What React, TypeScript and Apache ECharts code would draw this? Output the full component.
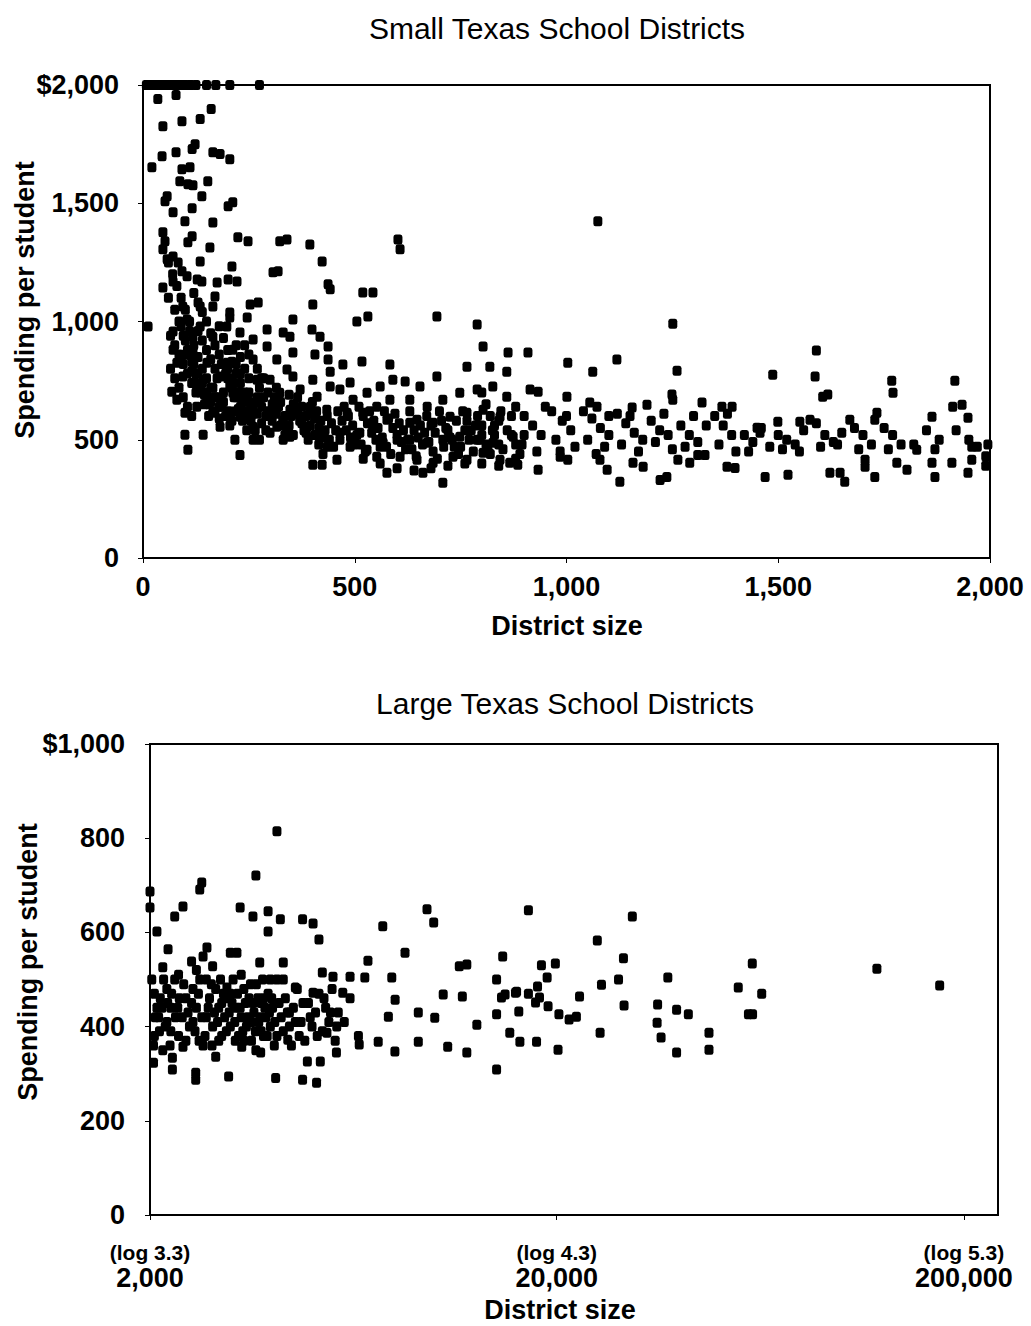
import React, { useEffect, useRef } from "react";
import * as echarts from "echarts";

// ---------- text ----------
const smallTitle = "Small Texas School Districts";
const largeTitle = "Large Texas School Districts";
const xName = "District size";
const yName = "Spending per student";

// ---------- tick labels ----------
const smallXTicks = [0, 500, 1000, 1500, 2000];
const smallXLabels = ["0", "500", "1,000", "1,500", "2,000"];
const smallYTicks = [0, 500, 1000, 1500, 2000];
const smallYLabels = ["0", "500", "1,000", "1,500", "$2,000"];
const largeYTicks = [0, 200, 400, 600, 800, 1000];
const largeYLabels = ["0", "200", "400", "600", "800", "$1,000"];
const largeXTicks = [2000, 20000, 200000];
const largeXLogLabels = ["(log 3.3)", "(log 4.3)", "(log 5.3)"];
const largeXLabels = ["2,000", "20,000", "200,000"];

// ---------- data: small districts [size, spending per student] ----------
const smallCapped = [
  [8, 2000], [15, 2000], [22, 2000], [30, 2000], [38, 2000], [45, 2000], [55, 2000], [62, 2000], [70, 2000],
  [80, 2000], [90, 2000], [100, 2000], [112, 2000], [125, 2000], [150, 2000], [172, 2000], [205, 2000], [275, 2000],
];
const smallUpper = [
  [35, 1941], [78, 1958], [161, 1898], [47, 1826], [92, 1847], [135, 1856], [45, 1699], [78, 1716], [116, 1729],
  [123, 1750], [165, 1716], [182, 1708], [205, 1686], [21, 1652], [92, 1644], [111, 1652], [87, 1593], [106, 1580],
  [118, 1576], [153, 1593], [57, 1530], [52, 1508], [139, 1530], [201, 1487], [212, 1504], [71, 1462], [116, 1479],
  [99, 1424], [165, 1419], [47, 1377], [52, 1339], [116, 1360], [106, 1335], [224, 1356], [248, 1339], [323, 1339],
  [340, 1347], [394, 1326], [602, 1347], [607, 1305], [47, 1305], [57, 1263], [71, 1275], [83, 1250], [158, 1313],
  [135, 1254], [210, 1233], [423, 1254], [307, 1208], [319, 1212], [92, 1212], [104, 1191], [128, 1178], [139, 1169],
  [175, 1165], [201, 1178], [222, 1169], [47, 1144], [71, 1169], [437, 1157], [442, 1136], [519, 1123], [543, 1123],
  [253, 1072], [272, 1080], [401, 1072], [170, 1106], [531, 1021], [505, 1000], [694, 1021], [789, 987], [12, 979],
  [354, 1008], [205, 1017], [246, 1017], [293, 966], [331, 953], [347, 936], [399, 966], [418, 936], [803, 894],
  [862, 869], [909, 869], [1074, 1424], [1251, 991],
];
const smallLeftDense = [
  [99, 521], [142, 521], [106, 458], [229, 436], [217, 500], [260, 555], [212, 619], [71, 958], [71, 881], [80, 826],
  [68, 703], [94, 767], [118, 869], [135, 979], [165, 936], [198, 979], [212, 881], [182, 767], [142, 754], [151, 682],
  [127, 640], [165, 614], [212, 699], [246, 669], [269, 754], [260, 839], [260, 924], [229, 953], [198, 826], [104, 1008],
  [135, 1063], [94, 1063], [165, 1063], [205, 1038], [118, 936], [151, 826], [99, 614], [80, 669], [182, 555], [229, 597],
  [260, 500], [293, 894], [406, 860], [437, 894], [437, 839], [442, 788], [401, 754], [354, 869], [316, 839], [340, 797],
  [300, 754], [323, 699], [371, 712], [411, 682], [442, 725], [307, 640], [347, 627], [394, 614], [434, 627], [316, 555],
  [347, 513], [387, 555], [418, 513], [401, 394], [423, 394], [300, 530], [331, 500], [354, 767],
  [60, 1250], [70, 1200], [80, 1150], [90, 1100], [100, 1050], [110, 1000], [120, 1120], [130, 1080], [140, 1040],
  [150, 1000], [160, 950], [170, 900], [180, 980], [190, 930], [200, 880], [210, 830], [220, 900], [230, 850],
  [240, 800], [250, 760], [60, 1100], [75, 1050], [85, 1000], [95, 940], [105, 880], [115, 830], [125, 780],
  [135, 730], [145, 690], [155, 650], [165, 720], [175, 680], [185, 640], [195, 600], [205, 560], [215, 740],
  [225, 700], [235, 660], [245, 620], [255, 580], [265, 540], [275, 500], [285, 680], [295, 620], [305, 580],
  [315, 720], [325, 660], [335, 600], [345, 560], [355, 520], [365, 680], [375, 640], [385, 600], [395, 560],
  [405, 520], [415, 480], [425, 440], [435, 600], [445, 570], [455, 540], [465, 500], [475, 640], [485, 600],
  [495, 560], [505, 520], [515, 480], [525, 450], [535, 620], [545, 580], [555, 550], [565, 510], [575, 470],
  [585, 440], [595, 610], [605, 570], [615, 540], [625, 500], [635, 460], [645, 430], [655, 560], [665, 530],
  [675, 490], [685, 450], [695, 420], [705, 580], [715, 550], [725, 510], [735, 470], [745, 440], [755, 620],
  [765, 580], [775, 540], [785, 560], [795, 500],
];
const smallBlob = [
  [65, 940], [75, 900], [85, 860], [95, 820], [105, 780], [115, 740], [125, 700], [65, 800], [75, 760], [85, 720],
  [95, 680], [105, 640], [115, 600], [90, 980], [100, 920], [110, 860], [120, 820], [130, 780], [140, 740], [150, 700],
  [160, 660], [170, 620], [180, 590], [190, 660], [200, 620], [210, 580], [220, 780], [230, 740], [240, 700], [250, 660],
  [260, 620], [270, 680], [280, 640], [290, 600], [130, 960], [140, 920], [150, 880], [160, 840], [170, 800], [180, 860],
  [190, 820], [200, 800], [210, 760], [220, 820], [230, 780], [240, 900], [250, 860], [270, 800], [280, 760],
];
const smallCore = [
  [110, 960], [120, 900], [130, 850], [140, 800], [150, 760], [160, 720], [170, 680], [180, 640], [190, 700],
  [200, 760], [210, 720], [220, 680], [230, 640], [240, 600], [250, 700], [260, 650], [270, 610], [280, 570],
  [290, 540], [300, 600], [310, 680], [320, 640], [330, 580], [340, 540], [350, 600], [360, 640], [370, 580],
  [380, 540], [390, 500], [400, 660], [410, 620], [420, 580], [430, 540], [440, 500], [450, 470], [460, 620],
  [470, 580], [480, 540], [490, 510], [500, 480], [100, 860], [115, 790], [125, 740], [135, 700], [145, 650],
  [155, 600], [175, 760], [185, 820], [195, 780], [205, 730], [215, 680], [225, 630], [235, 580], [245, 540],
  [255, 600], [265, 660], [275, 720], [285, 760], [295, 700], [305, 650], [315, 610], [325, 560], [335, 520],
  [345, 690], [355, 650], [365, 610], [375, 570], [385, 530], [395, 640], [405, 590], [415, 550], [425, 510],
  [435, 470], [510, 640], [520, 600], [530, 570], [540, 530], [550, 500], [560, 470], [570, 620], [580, 590],
  [590, 550], [600, 520], [610, 490], [620, 460], [630, 620], [640, 540], [650, 510], [660, 480], [670, 600],
  [680, 560], [690, 530], [700, 620], [710, 470], [720, 540], [730, 500], [740, 580], [750, 470], [760, 540],
  [770, 500], [780, 450], [790, 600], [800, 560], [810, 480], [820, 440], [830, 520], [840, 580], [850, 460],
  [860, 540], [870, 600], [880, 480], [890, 440], [900, 520], [520, 420], [560, 400], [600, 380], [640, 370],
  [680, 380], [720, 390], [760, 400], [800, 400], [840, 390], [880, 420],
];
const smallMiddle = [
  [458, 415], [472, 818], [517, 831], [583, 818], [590, 754], [619, 746], [465, 712], [496, 669], [529, 699],
  [560, 725], [482, 614], [519, 614], [552, 640], [583, 669], [465, 530], [512, 530], [543, 555], [576, 585],
  [489, 470], [529, 458], [567, 487], [600, 500], [576, 360], [552, 428], [607, 428], [489, 742],
  [765, 809], [694, 767], [654, 725], [630, 669], [671, 640], [708, 669], [748, 699], [789, 712], [826, 725],
  [859, 682], [647, 585], [685, 572], [725, 597], [765, 614], [803, 627], [843, 597], [630, 500], [671, 487],
  [708, 500], [748, 513], [789, 500], [826, 487], [874, 513], [647, 415], [685, 403], [708, 318], [661, 360],
  [732, 428], [765, 415], [803, 445], [843, 415], [630, 572],
];
const smallRight = [
  [1590, 877], [819, 809], [859, 788], [1003, 826], [1062, 788], [1119, 839], [1261, 792], [1487, 775], [1587, 767],
  [1768, 750], [1771, 699], [1917, 750], [1912, 640], [1934, 648], [1605, 682], [1617, 691], [914, 712], [933, 703],
  [1001, 682], [1055, 657], [1072, 640], [1155, 636], [1190, 648], [1249, 691], [1251, 669], [1320, 657], [1367, 640],
  [1391, 640], [1499, 576], [1551, 576], [1575, 585], [1669, 585], [1733, 614], [1728, 585], [1863, 597], [1948, 593],
  [1450, 551], [1457, 530],
  [1469, 343], [1523, 352], [1622, 360], [1646, 360], [1657, 322], [1728, 343], [1705, 415], [1705, 386], [1780, 403],
  [1804, 373], [1827, 458], [1863, 403], [1870, 343], [1910, 403], [1957, 415], [1957, 470], [1948, 360], [1126, 322],
  [1221, 330], [1237, 343], [1079, 415], [1096, 373], [1157, 403], [1181, 386], [1263, 415], [1291, 403], [1379, 386],
  [1398, 381], [866, 403], [885, 394], [933, 373], [985, 428], [1003, 415], [1310, 436], [1327, 436],
  [800, 700], [810, 650], [820, 600], [830, 560], [800, 520], [840, 480], [815, 450], [825, 540], [845, 620],
  [880, 640], [900, 600], [920, 560], [940, 520], [895, 480], [950, 640], [870, 520], [930, 450],
  [965, 620], [990, 580], [1010, 540], [975, 500], [1020, 470], [1000, 600], [985, 450],
  [1040, 620], [1060, 590], [1080, 550], [1100, 520], [1050, 500], [1090, 470], [1070, 440], [1100, 600],
  [1120, 610], [1140, 570], [1160, 530], [1180, 500], [1130, 480], [1170, 450], [1150, 600],
  [1200, 580], [1220, 540], [1240, 520], [1210, 490], [1250, 460], [1230, 610],
  [1270, 560], [1290, 520], [1310, 490], [1330, 560], [1280, 470], [1300, 600],
  [1350, 600], [1370, 560], [1390, 520], [1360, 480], [1400, 450], [1380, 610],
  [1420, 520], [1440, 490], [1460, 550], [1480, 470], [1430, 450],
  [1500, 520], [1520, 500], [1540, 480], [1560, 540], [1510, 460], [1550, 450],
  [1590, 570], [1610, 520], [1630, 490], [1600, 470], [1640, 480], [1650, 530],
  [1680, 550], [1700, 520], [1720, 480], [1690, 460],
  [1750, 550], [1770, 520], [1790, 480], [1760, 460],
  [1820, 480], [1850, 540], [1880, 500], [1870, 460],
  [1920, 540], [1950, 500], [1970, 470], [1990, 430], [1995, 480], [1990, 390],
];

// ---------- data: large districts [size, spending per student] ----------
const largeSparse = [
  [2000, 687], [2000, 653], [2080, 602], [2215, 564], [2300, 634], [2410, 655], [2680, 706], [2650, 691], [3640, 721],
  [4100, 815], [3330, 653], [3580, 634], [3900, 645], [4180, 628], [3900, 602], [4740, 628], [5030, 619], [5200, 585],
  [7460, 613], [9580, 649], [9950, 621], [8460, 557], [6860, 540], [4250, 536], [3720, 536], [3270, 557], [3150, 557],
  [2850, 528], [2530, 538], [2700, 549], [2760, 568], [2150, 526], [7850, 504], [6740, 504], [14700, 549], [11500, 528],
  [12000, 532], [14200, 500], [14900, 468], [15900, 474], [10500, 468], [11700, 464], [8000, 457], [4550, 483],
  [5030, 472], [5950, 472], [5630, 506], [5300, 515], [6200, 506], [3090, 483],
  [17000, 647], [30600, 634], [25100, 583], [18300, 530], [19800, 534], [29100, 545], [60300, 534], [122000, 523],
  [174000, 487], [18900, 504], [17900, 485], [15800, 472], [17000, 470], [18100, 462], [25700, 489], [28300, 500],
  [37400, 504], [55700, 483], [63600, 470], [14600, 462], [22700, 464], [14200, 426], [16100, 432], [17700, 451],
  [19000, 443], [20200, 426], [22300, 421], [29200, 445], [35300, 447], [39300, 436], [42000, 426], [59000, 426],
];
const largeLower = [
  [60400, 426], [47200, 387], [47200, 351], [39300, 345], [35200, 408], [36000, 377], [25500, 387], [21400, 415],
  [20100, 351], [17800, 368], [15300, 387], [16200, 368], [14200, 309], [12700, 404], [12000, 345], [10770, 357],
  [9120, 368], [7990, 347], [7270, 368], [6530, 362], [7700, 421], [9120, 430], [10010, 419], [5740, 345],
  [5240, 326], [5130, 281], [4740, 287], [4870, 326], [4070, 291], [3740, 345], [3120, 294], [2590, 302],
  [2590, 287], [2270, 334], [2270, 309], [2040, 323], [2410, 357], [2900, 336], [3360, 357], [4360, 372], [5440, 387],
];
const largeDense = [
  [2050, 380], [2100, 420], [2120, 460], [2180, 400], [2200, 480], [2250, 440], [2300, 500], [2350, 380], [2400, 420],
  [2450, 460], [2500, 400], [2550, 480], [2600, 440], [2650, 500], [2700, 360], [2750, 420], [2800, 460], [2850, 400],
  [2900, 480], [2950, 440], [3000, 380], [3050, 420], [3100, 460], [3150, 400], [3200, 500], [3250, 440], [3300, 380],
  [3350, 420], [3400, 480], [3450, 400], [3500, 460], [3550, 370], [3600, 430], [3650, 490], [3700, 410], [3750, 450],
  [3800, 380], [3850, 420], [3900, 470], [3950, 400], [4000, 440], [4100, 380], [4200, 420], [4300, 460], [4400, 400],
  [4500, 440], [4600, 480], [4700, 410], [4800, 370], [4900, 450], [5000, 400], [5100, 430], [5200, 470], [5300, 390],
  [5400, 440], [5500, 410], [5600, 480], [5700, 370], [5800, 430], [6000, 410], [6200, 460], [6500, 380], [2050, 470],
  [2150, 350], [2250, 390], [2350, 510], [2450, 370], [2550, 410], [2750, 500], [2950, 370], [3150, 470], [3350, 510],
  [3550, 410], [3750, 390], [3950, 500], [4250, 500], [4450, 360], [4650, 380], [2080, 440], [2200, 410], [2600, 520],
  [3000, 450], [3400, 370], [3800, 460], [4100, 500], [4400, 430],
];
const largeCore = [
  [2020, 500], [2060, 420], [2110, 390], [2160, 500], [2210, 450], [2260, 470], [2310, 420], [2360, 460], [2420, 490],
  [2480, 430], [2530, 450], [2580, 390], [2630, 470], [2680, 420], [2730, 380], [2780, 440], [2830, 490], [2880, 430],
  [2930, 410], [2980, 500], [3030, 470], [3080, 390], [3130, 430], [3180, 450], [3230, 410], [3280, 470], [3330, 440],
  [3380, 390], [3430, 450], [3480, 420], [3530, 490], [3580, 450], [3630, 390], [3680, 460], [3730, 420], [3780, 500],
  [3830, 440], [3880, 380], [3930, 430], [3980, 460], [4050, 410], [4150, 450], [4250, 390], [4350, 430], [4550, 410],
  [4750, 450], [4950, 420], [5150, 380], [5350, 460], [5550, 430], [5750, 400], [2040, 360], [2140, 440], [2240, 360],
  [2340, 440], [2640, 370], [2840, 360], [3240, 370], [3640, 350], [4040, 360],
];

const smallData = [...smallCapped, ...smallUpper, ...smallLeftDense, ...smallBlob, ...smallCore, ...smallMiddle, ...smallRight];
const largeData = [...largeSparse, ...largeLower, ...largeDense, ...largeCore];

const FONT = "'Liberation Sans', Arial, Helvetica, sans-serif";

function labelFor(ticks: number[], labels: string[], v: number) {
  const i = ticks.findIndex((t) => Math.abs(t - v) < 1e-6 * Math.max(1, Math.abs(t)));
  return i >= 0 ? labels[i] : "";
}

export default function App() {
  const ref = useRef<HTMLDivElement>(null);

  useEffect(() => {
    if (!ref.current) return;
    const chart = echarts.init(ref.current, undefined, { renderer: "svg" });

    const logMin = Math.log10(largeXTicks[0]);
    const logMax = Math.log10(242000);

    const axisLine = { show: true, onZero: false, lineStyle: { color: "#000", width: 2 } };
    const tickLabel = { color: "#000", fontSize: 27, fontFamily: FONT, fontWeight: "bold" as const };
    const marker = { color: "#000", opacity: 1 };

    chart.setOption({
      animation: false,
      backgroundColor: "#fff",
      grid: [
        { left: 143, top: 85, width: 847, height: 473, show: true, borderColor: "#000", borderWidth: 2, backgroundColor: "transparent" },
        { left: 150, top: 744, width: 848, height: 471, show: true, borderColor: "#000", borderWidth: 2, backgroundColor: "transparent" },
      ],
      xAxis: [
        {
          gridIndex: 0, type: "value", min: 0, max: 2000, interval: 500,
          axisLine, splitLine: { show: false },
          axisTick: { show: true, length: 5, lineStyle: { color: "#000", width: 1 } },
          axisLabel: { ...tickLabel, margin: 15, formatter: (v: number) => labelFor(smallXTicks, smallXLabels, v) },
        },
        {
          gridIndex: 1, type: "log", logBase: 10, min: largeXTicks[0], max: 242000,
          axisLine: { show: false }, axisTick: { show: false }, axisLabel: { show: false },
          splitLine: { show: false }, minorTick: { show: false }, minorSplitLine: { show: false },
        },
        {
          gridIndex: 1, type: "value", min: logMin, max: logMax, interval: 1, position: "bottom",
          axisLine, splitLine: { show: false },
          axisTick: { show: true, length: 5, lineStyle: { color: "#000", width: 1 } },
          axisLabel: {
            color: "#000", fontFamily: FONT, margin: 25, showMaxLabel: false,
            formatter: (v: number, i: number) =>
              i < largeXTicks.length ? `{log|${largeXLogLabels[i]}}\n{num|${largeXLabels[i]}}` : "",
            rich: {
              log: { fontSize: 21, fontWeight: "bold", fontFamily: FONT, color: "#000", lineHeight: 24 },
              num: { fontSize: 27, fontWeight: "bold", fontFamily: FONT, color: "#000", lineHeight: 28 },
            },
          },
        },
      ],
      yAxis: [
        {
          gridIndex: 0, type: "value", min: 0, max: 2000, interval: 500,
          axisLine, splitLine: { show: false },
          axisTick: { show: true, length: 5, lineStyle: { color: "#000", width: 1 } },
          axisLabel: { ...tickLabel, margin: 24, formatter: (v: number) => labelFor(smallYTicks, smallYLabels, v) },
        },
        {
          gridIndex: 1, type: "value", min: 0, max: 1000, interval: 200,
          axisLine, splitLine: { show: false },
          axisTick: { show: true, length: 5, lineStyle: { color: "#000", width: 1 } },
          axisLabel: { ...tickLabel, margin: 25, formatter: (v: number) => labelFor(largeYTicks, largeYLabels, v) },
        },
      ],
      series: [
        {
          type: "scatter", xAxisIndex: 0, yAxisIndex: 0, data: smallData,
          symbol: "roundRect", symbolSize: [9, 10], itemStyle: marker, clip: false,
        },
        {
          type: "scatter", xAxisIndex: 1, yAxisIndex: 1, data: largeData,
          symbol: "roundRect", symbolSize: [9, 10], itemStyle: marker, clip: false,
        },
      ],
      graphic: [
        { type: "text", x: 557, y: 28, style: { text: smallTitle, fill: "#000", fontSize: 30, fontFamily: FONT, align: "center", verticalAlign: "middle" } },
        { type: "text", x: 567, y: 626, style: { text: xName, fill: "#000", fontSize: 27, fontWeight: "bold", fontFamily: FONT, align: "center", verticalAlign: "middle" } },
        { type: "text", x: 25, y: 300, rotation: Math.PI / 2, style: { text: yName, fill: "#000", fontSize: 27, fontWeight: "bold", fontFamily: FONT, align: "center", verticalAlign: "middle" } },
        { type: "text", x: 565, y: 703, style: { text: largeTitle, fill: "#000", fontSize: 30, fontFamily: FONT, align: "center", verticalAlign: "middle" } },
        { type: "text", x: 560, y: 1310, style: { text: xName, fill: "#000", fontSize: 27, fontWeight: "bold", fontFamily: FONT, align: "center", verticalAlign: "middle" } },
        { type: "text", x: 28, y: 962, rotation: Math.PI / 2, style: { text: yName, fill: "#000", fontSize: 27, fontWeight: "bold", fontFamily: FONT, align: "center", verticalAlign: "middle" } },
      ],
    });

    return () => chart.dispose();
  }, []);

  return (
    <div
      ref={ref}
      style={{ position: "absolute", left: 0, top: 0, width: 1031, height: 1326, background: "#fff" }}
    />
  );
}
